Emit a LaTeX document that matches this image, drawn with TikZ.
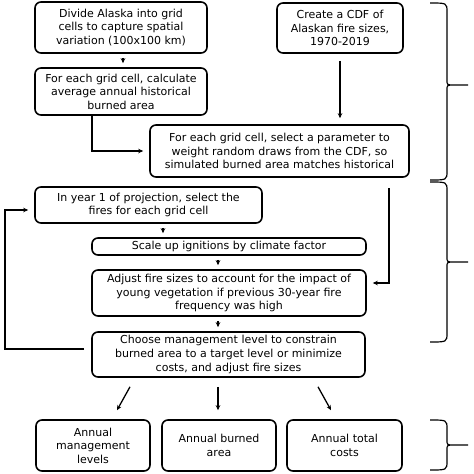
\documentclass[tikz,border=0pt]{standalone}
\usepackage{fontspec}
\setmainfont{DejaVu Sans}
\usetikzlibrary{arrows.meta}
\begin{document}
\begin{tikzpicture}[x=1pt,y=-1pt,
  box/.style={draw, line width=1.6pt, rounded corners=6pt, align=center, inner sep=0pt,
    font=\fontsize{11}{13.6}\selectfont},
  arr/.style={line width=1.3pt, -{Stealth[length=5pt,width=4.5pt]}},
  brc/.style={line width=1.2pt}]
\useasboundingbox (0,0) rectangle (474,474);
\fill[white] (0,0) rectangle (474,474);
\node[box, minimum width=172pt, minimum height=51pt] (b1) at (121,27.5) {Divide Alaska into grid\\cells to capture spatial\\variation (100x100 km)};
\node[box, minimum width=172pt, minimum height=47pt] (b2) at (121,91.5) {For each grid cell, calculate\\average annual historical\\burned area};
\node[box, minimum width=126pt, minimum height=50pt] (b3) at (340,28) {Create a CDF of\\Alaskan fire sizes,\\1970-2019};
\node[box, minimum width=259pt, minimum height=52pt] (b4) at (279.5,151) {For each grid cell, select a parameter to\\weight random draws from the CDF, so\\simulated burned area matches historical};
\node[box, minimum width=227pt, minimum height=36pt] (b5) at (148.5,205) {In year 1 of projection, select the\\fires for each grid cell};
\node[box, minimum width=274pt, minimum height=17pt] (b6) at (229,246.5) {Scale up ignitions by climate factor};
\node[box, minimum width=274pt, minimum height=46pt] (b7) at (229,293) {Adjust fire sizes to account for the impact of\\young vegetation if previous 30-year fire\\frequency was high};
\node[box, minimum width=273pt, minimum height=45pt] (b8) at (228.5,354.5) {Choose management level to constrain\\burned area to a target level or minimize\\costs, and adjust fire sizes};
\node[box, minimum width=114pt, minimum height=51pt] (oa) at (93,445.5) {Annual\\management\\levels};
\node[box, minimum width=114pt, minimum height=51pt] (ob) at (219,445.5) {Annual burned\\area};
\node[box, minimum width=115pt, minimum height=51pt] (oc) at (344.5,445.5) {Annual total\\costs};
% connectors
\draw[arr, shorten <=4pt, shorten >=4pt] ([xshift=2pt]b1.south) -- ([xshift=2pt]b2.north);
\draw[arr, shorten <=7pt, shorten >=6pt] (b3.south) -- (b3.south |- b4.north);
\draw[arr, shorten >=6pt] ([xshift=-29pt]b2.south) |- (b4.west);
\draw[arr, shorten <=4pt, shorten >=4pt] ([xshift=14.5pt]b5.south) -- ([xshift=14.5pt]b5.south |- b6.north);
\draw[arr, shorten <=4pt, shorten >=4pt] ([xshift=-11pt]b6.south) -- ([xshift=-11pt]b7.north);
\draw[arr, shorten <=4pt, shorten >=4pt] ([xshift=-11pt]b7.south) -- ([xshift=-10.5pt]b8.north);
\coordinate (rtop) at (389,188);
\draw[arr, shorten >=6pt] (rtop) |- ([yshift=10pt]b7.east);
\coordinate (fb) at (5,349);
\draw[arr, shorten <=7pt, shorten >=6pt] ([yshift=5.5pt]b8.west) -- (fb) |- ([yshift=-5pt]b5.west);
\draw[arr] ([xshift=-98.5pt,yshift=-9pt]b8.south) -- ([xshift=24pt,yshift=9pt]oa.north);
\draw[arr] ([xshift=-10.5pt,yshift=-9pt]b8.south) -- ([xshift=-1pt,yshift=9pt]ob.north);
\draw[arr] ([xshift=89.5pt,yshift=-9pt]b8.south) -- ([xshift=-13.5pt,yshift=9pt]oc.north);
% braces
\newcommand\rbrc[3]{%
\draw[brc] (430,#1) .. controls (447,#1) .. (447,{#1+9}) -- (447,{#3-5}) .. controls (447,#3) .. (454,#3) -- (468,#3)
  -- (454,#3) .. controls (447,#3) .. (447,{#3+5}) -- (447,{#2-9}) .. controls (447,#2) .. (430,#2);}
\rbrc{3}{180}{85}
\rbrc{182}{342}{262}
\rbrc{420}{470}{445}
\end{tikzpicture}
\end{document}
